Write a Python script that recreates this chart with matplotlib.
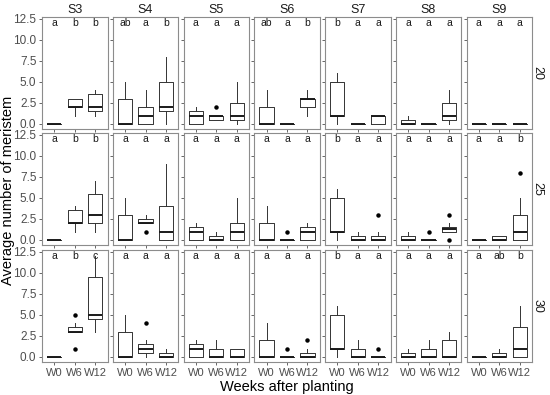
"""
Facet grid of boxplots: meristem counts by station, temperature and week.
"""

import matplotlib
matplotlib.use("Agg")
import matplotlib.pyplot as plt

plt.rcParams['font.family'] = ['Liberation Sans', 'DejaVu Sans']

stations = ['S3', 'S4', 'S5', 'S6', 'S7', 'S8', 'S9']
temps = ['20', '25', '30']
weeks = ['W0', 'W6', 'W12']
y_ticks = [0.0, 2.5, 5.0, 7.5, 10.0, 12.5]

# box stats per station: (whislo, q1, med, q3, whishi, fliers) for W0, W6, W12
box_20 = [
    [(0, 0, 0, 0, 0, []), (1, 2, 2, 3, 3, []), (1, 1.5, 2, 3.5, 4, [])],
    [(0, 0, 0, 3, 5, []), (0, 0, 1, 2, 4, []), (0, 1.5, 2, 5, 8, [])],
    [(0, 0, 1, 1.5, 2, []), (0.5, 0.5, 1, 1, 1, [2]), (0, 0.5, 1, 2.5, 5, [])],
    [(0, 0, 0, 2, 4, []), (0, 0, 0, 0, 0, []), (1, 2, 3, 3, 4, [])],
    [(0, 1, 1, 5, 6, []), (0, 0, 0, 0, 0, []), (0, 0, 1, 1, 1, [])],
    [(0, 0, 0, 0.5, 1, []), (0, 0, 0, 0, 0, []), (0, 0.5, 1, 2.5, 4, [])],
    [(0, 0, 0, 0, 0, []), (0, 0, 0, 0, 0, []), (0, 0, 0, 0, 0, [])],
]
box_25 = [
    [(0, 0, 0, 0, 0, []), (1, 2, 2, 3.5, 4, []), (1, 2, 3, 5.5, 7, [])],
    [(0, 0, 0, 3, 5, []), (2, 2, 2, 2.5, 3, [1]), (0, 0, 1, 4, 9, [])],
    [(0, 0, 1, 1.5, 2, []), (0, 0, 0, 0.5, 1, []), (0, 0, 1, 2, 5, [])],
    [(0, 0, 0, 2, 4, []), (0, 0, 0, 0, 0, [1]), (0, 0, 1, 1.5, 2, [])],
    [(0, 1, 1, 5, 6, []), (0, 0, 0, 0.5, 1, []), (0, 0, 0, 0.5, 1, [3])],
    [(0, 0, 0, 0.5, 1, []), (0, 0, 0, 0, 0, [1]), (1, 1, 1.25, 1.5, 2, [3, 0])],
    [(0, 0, 0, 0, 0, []), (0, 0, 0, 0.5, 0.5, []), (0, 0, 1, 3, 5, [8])],
]
box_30 = [
    [(0, 0, 0, 0, 0, []), (3, 3, 3, 3.5, 4, [5, 1]), (3, 4.5, 5, 9.5, 12, [])],
    [(0, 0, 0, 3, 5, []), (0, 0.5, 1, 1.5, 2, [4]), (0, 0, 0, 0.5, 1, [])],
    [(0, 0, 1, 1.5, 2, []), (0, 0, 0, 1, 2, []), (0, 0, 0, 1, 1, [])],
    [(0, 0, 0, 2, 4, []), (0, 0, 0, 0, 0, [1]), (0, 0, 0, 0.5, 1, [2])],
    [(0, 1, 1, 5, 6, []), (0, 0, 0, 1, 2, []), (0, 0, 0, 0, 0, [1])],
    [(0, 0, 0, 0.5, 1, []), (0, 0, 0, 1, 2, []), (0, 0, 0, 2, 3, [])],
    [(0, 0, 0, 0, 0, []), (0, 0, 0, 0.5, 1, []), (0, 0, 1, 3.5, 6, [])],
]
boxes = [box_20, box_25, box_30]

# significance letters per station (W0, W6, W12)
letters_20 = [['a', 'b', 'b'], ['ab', 'a', 'b'], ['a', 'a', 'a'], ['ab', 'a', 'b'],
              ['b', 'a', 'a'], ['a', 'a', 'a'], ['a', 'a', 'a']]
letters_25 = [['a', 'b', 'b'], ['a', 'a', 'a'], ['a', 'a', 'a'], ['a', 'a', 'a'],
              ['b', 'a', 'a'], ['a', 'a', 'a'], ['a', 'a', 'b']]
letters_30 = [['a', 'b', 'c'], ['a', 'a', 'a'], ['a', 'a', 'a'], ['a', 'a', 'a'],
              ['b', 'a', 'a'], ['a', 'a', 'a'], ['a', 'ab', 'b']]
letters = [letters_20, letters_25, letters_30]

W, H = 550, 395
fig = plt.figure(figsize=(W / 100, H / 100), dpi=100)

left, right = 42, 532
panel_w = 65.5
gap_x = (right - left - 7 * panel_w) / 6
row_tops = [17, 133, 250]
panel_h = 112

grey = '#4d4d4d'
for r, temp in enumerate(temps):
    for c, st in enumerate(stations):
        x0 = left + c * (panel_w + gap_x)
        y0 = H - row_tops[r] - panel_h
        ax = fig.add_axes([x0 / W, y0 / H, panel_w / W, panel_h / H])

        stats = []
        for k, (lo, q1, med, q3, hi, fl) in enumerate(boxes[r][c]):
            stats.append(dict(whislo=lo, q1=q1, med=med, q3=q3, whishi=hi,
                              fliers=fl, label=weeks[k]))
        ax.bxp(stats, positions=[1, 2, 3], widths=0.7, showcaps=False,
               boxprops=dict(color='#333333', linewidth=0.7),
               whiskerprops=dict(color='#333333', linewidth=0.7),
               medianprops=dict(color='#1a1a1a', linewidth=1.4),
               flierprops=dict(marker='o', markersize=2.2, markerfacecolor='black',
                               markeredgecolor='black'))

        for k, lab in enumerate(letters[r][c]):
            ax.text(k + 1, 12.0, lab, ha='center', va='center', fontsize=7.5,
                    color='#1a1a1a')

        ax.set_xlim(0.4, 3.6)
        ax.set_ylim(-0.6, 12.7)
        ax.set_yticks(y_ticks)
        ax.set_xticks([1, 2, 3])
        for sp in ax.spines.values():
            sp.set_color('#8c8c8c')
            sp.set_linewidth(0.8)
        ax.tick_params(length=2.5, width=0.6, color='#4d4d4d',
                       labelcolor=grey, labelsize=8.5, pad=1.5)
        ax.tick_params(axis='x', labelsize=8)

        if c == 0:
            ax.set_yticklabels([f'{t:.1f}' for t in y_ticks])
        else:
            ax.set_yticklabels([])
        if r == 2:
            ax.set_xticklabels(weeks)
        else:
            ax.set_xticklabels([])

        if r == 0:
            ax.set_title(st, fontsize=9, pad=3, color='#1a1a1a')
        if c == 6:
            ax.text(1.08, 0.5, temp, transform=ax.transAxes, rotation=270,
                    ha='center', va='center', fontsize=9, color='#1a1a1a')

fig.text(8 / W, 1 - 190 / H, 'Average number of meristem', rotation=90,
         ha='center', va='center', fontsize=10.5)
fig.text(287 / W, 1 - 387 / H, 'Weeks after planting', ha='center', va='center',
         fontsize=10.5)

plt.savefig('out.png', dpi=100)
plt.close()
